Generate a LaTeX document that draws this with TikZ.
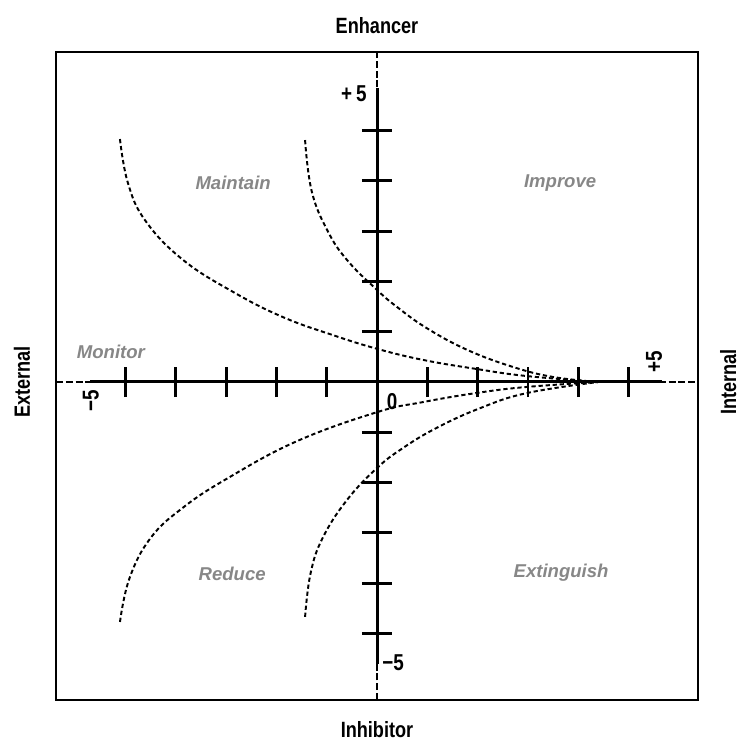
\documentclass[tikz,border=0pt]{standalone}
\usepackage{fontspec}
\newfontfamily\axisfont[FakeStretch=0.82]{Liberation Sans}
\newfontfamily\quadfont{Liberation Sans}

\begin{document}
\begin{tikzpicture}[
  axis/.style={line width=1.7pt},
  tick/.style={line width=1.6pt},
  guide/.style={line width=0.85pt, dash pattern=on 4pt off 1.5pt},
  curve/.style={line width=1.1pt, dash pattern=on 2.4pt off 1.6pt},
  quad/.style={text=black!47, font=\quadfont\bfseries\itshape\fontsize{10.5}{12}\selectfont},
  axlab/.style={inner sep=0pt, font=\axisfont\bfseries\fontsize{12.5}{14}\selectfont},
  num/.style={font=\axisfont\bfseries\fontsize{13}{15}\selectfont, inner sep=0pt}
]
\useasboundingbox (-7.495,-7.157) rectangle (7.217,7.594);

% frame and guide lines
\draw[line width=1.4pt] (-6.38,-6.32) rectangle (6.38,6.56);
\draw[guide] (-6.38,0) -- (6.38,0);
\draw[guide] (0,-6.32) -- (0,6.56);

% axes
\draw[axis] (-5.7,0) -- (5.67,0);
\draw[axis] (0,-5.6) -- (0,5.85);

% ticks on the horizontal axis
\draw[tick] (-5,-0.3) -- (-5,0.3);
\draw[tick] (-4,-0.3) -- (-4,0.3);
\draw[tick] (-3,-0.3) -- (-3,0.3);
\draw[tick] (-2,-0.3) -- (-2,0.3);
\draw[tick] (-1,-0.3) -- (-1,0.3);
\draw[tick] (1,-0.3) -- (1,0.3);
\draw[tick] (2,-0.3) -- (2,0.3);
\draw[tick] (3,-0.3) -- (3,0.3);
\draw[tick] (4,-0.3) -- (4,0.3);
\draw[tick] (5,-0.3) -- (5,0.3);

% ticks on the vertical axis
\draw[tick] (-0.3,5) -- (0.3,5);
\draw[tick] (-0.3,4) -- (0.3,4);
\draw[tick] (-0.3,3) -- (0.3,3);
\draw[tick] (-0.3,2) -- (0.3,2);
\draw[tick] (-0.3,1) -- (0.3,1);
\draw[tick] (-0.3,-1) -- (0.3,-1);
\draw[tick] (-0.3,-2) -- (0.3,-2);
\draw[tick] (-0.3,-3) -- (0.3,-3);
\draw[tick] (-0.3,-4) -- (0.3,-4);
\draw[tick] (-0.3,-5) -- (0.3,-5);

% curves
\draw[curve] plot[smooth, tension=0.7] coordinates {(-5.11,4.83) (-4.95,3.95) (-4.60,3.20) (-3.86,2.43) (-2.86,1.79) (-1.87,1.29) (-0.87,0.93) (0,0.66) (0.91,0.44) (1.97,0.26) (2.96,0.12) (4.4,0)};
\draw[curve] plot[smooth, tension=0.7] coordinates {(-1.43,4.81) (-1.30,3.80) (-0.99,3.02) (-0.60,2.43) (0,1.83) (0.40,1.49) (0.99,1.07) (1.79,0.64) (2.70,0.30) (3.50,0.10) (4.4,0)};
\draw[curve] plot[smooth, tension=0.7] coordinates {(-5.11,-4.77) (-4.92,-3.90) (-4.50,-3.10) (-3.86,-2.50) (-2.98,-1.92) (-1.60,-1.18) (0,-0.60) (0.91,-0.40) (1.97,-0.22) (2.96,-0.10) (4.4,0)};
\draw[curve] plot[smooth, tension=0.7] coordinates {(-1.43,-4.67) (-1.32,-3.80) (-1.08,-3.10) (-0.60,-2.35) (0,-1.71) (0.52,-1.31) (1.19,-0.91) (2.05,-0.52) (2.98,-0.22) (4.4,0)};

% axis titles
\node[axlab] (enh) at (0,7.08) {Enhancer};
\node[axlab] (inh) at (0,-6.92) {Inhibitor};
\node[axlab, rotate=90] (ext) at (-7.06,0) {External};
\node[axlab, rotate=90] (int) at (6.98,0) {Internal};

% scale numbers
\node[num] (ptop) at (-0.46,5.73) {+\,5};
\node[num] (mbot) at (0.32,-5.59) {−5};
\node[num, rotate=90] (mleft) at (-5.69,-0.38) {−5};
\node[num, rotate=90] (pright) at (5.51,0.40) {+5};
\node[num] (zero) at (0.30,-0.38) {0};

% quadrant names
\node[quad] (maint) at (-2.86,3.96) {Maintain};
\node[quad] (impr) at (3.64,3.96) {Improve};
\node[quad] (monit) at (-5.29,0.60) {Monitor};
\node[quad] (reduc) at (-2.88,-3.82) {Reduce};
\node[quad] (extin) at (3.66,-3.80) {Extinguish};
\end{tikzpicture}
\end{document}
